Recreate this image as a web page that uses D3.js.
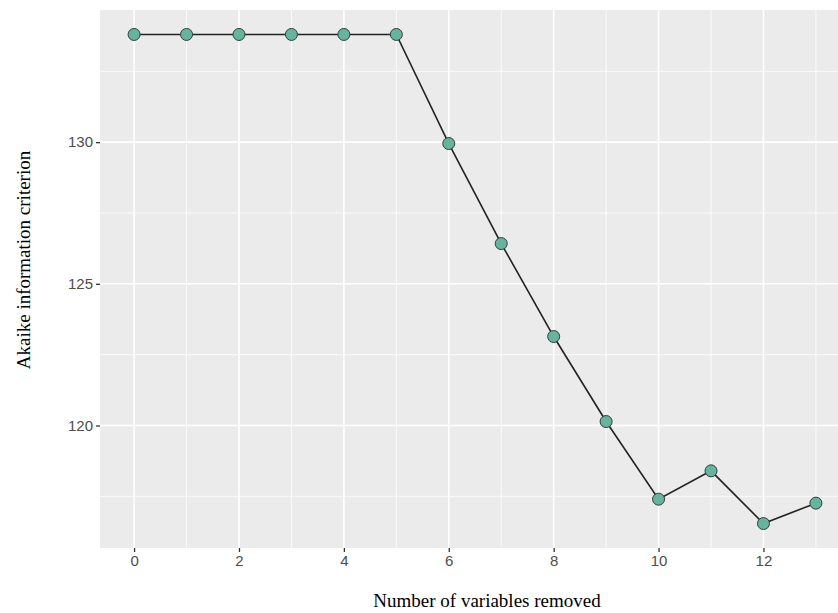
<!DOCTYPE html>
<html>
<head>
<meta charset="utf-8">
<script src="https://cdn.jsdelivr.net/npm/d3@7"></script>
<style>
  body { margin: 0; background: #fff; }
  svg { display: block; }
</style>
</head>
<body>
<div id="chart"></div>
<script>
const removed = [0, 1, 2, 3, 4, 5, 6, 7, 8, 9, 10, 11, 12, 13];
const aic = [133.8, 133.8, 133.8, 133.8, 133.8, 133.8, 129.95, 126.42, 123.14, 120.14, 117.4, 118.4, 116.54, 117.26];
const xTicks = [0, 2, 4, 6, 8, 10, 12];
const yTicks = [120, 125, 130];

const W = 838, H = 613;
const PANEL = { LEFT: 100, RIGHT: 850, TOP: 10, BOTTOM: 548 };

const svg = d3.select("#chart")
  .append("svg")
    .attr("width", W)
    .attr("height", H);

const xMin = d3.min(removed), xMax = d3.max(removed);
const xPad = (xMax - xMin) * 0.05;
const x = d3.scaleLinear()
  .domain([xMin - xPad, xMax + xPad])
  .range([PANEL.LEFT, PANEL.RIGHT]);

const yMin = d3.min(aic), yMax = d3.max(aic);
const yPad = (yMax - yMin) * 0.05;
const y = d3.scaleLinear()
  .domain([yMin - yPad, yMax + yPad])
  .range([PANEL.BOTTOM, PANEL.TOP]);

// panel background
svg.append("rect")
  .attr("x", PANEL.LEFT)
  .attr("y", PANEL.TOP)
  .attr("width", PANEL.RIGHT - PANEL.LEFT)
  .attr("height", PANEL.BOTTOM - PANEL.TOP)
  .attr("fill", "#ebebeb");

// minor grid
const xMinor = d3.range(1, 14, 2);
const yMinor = [117.5, 122.5, 127.5, 132.5];
const grid = svg.append("g");
grid.selectAll(".xminor").data(xMinor).enter().append("line")
  .attr("x1", d => x(d)).attr("x2", d => x(d))
  .attr("y1", PANEL.TOP).attr("y2", PANEL.BOTTOM)
  .attr("stroke", "#fff").attr("stroke-width", 0.8);
grid.selectAll(".yminor").data(yMinor).enter().append("line")
  .attr("y1", d => y(d)).attr("y2", d => y(d))
  .attr("x1", PANEL.LEFT).attr("x2", PANEL.RIGHT)
  .attr("stroke", "#fff").attr("stroke-width", 0.8);

// major grid
grid.selectAll(".xmajor").data(xTicks).enter().append("line")
  .attr("x1", d => x(d)).attr("x2", d => x(d))
  .attr("y1", PANEL.TOP).attr("y2", PANEL.BOTTOM)
  .attr("stroke", "#fff").attr("stroke-width", 1.6);
grid.selectAll(".ymajor").data(yTicks).enter().append("line")
  .attr("y1", d => y(d)).attr("y2", d => y(d))
  .attr("x1", PANEL.LEFT).attr("x2", PANEL.RIGHT)
  .attr("stroke", "#fff").attr("stroke-width", 1.6);

// axes
const xAxis = svg.append("g")
  .attr("transform", `translate(0, ${PANEL.BOTTOM})`)
  .call(d3.axisBottom(x).tickValues(xTicks).tickSize(4).tickPadding(3));
const yAxis = svg.append("g")
  .attr("transform", `translate(${PANEL.LEFT}, 0)`)
  .call(d3.axisLeft(y).tickValues(yTicks).tickSize(4).tickPadding(3));

[xAxis, yAxis].forEach(g => {
  g.select(".domain").remove();
  g.selectAll(".tick line").attr("stroke", "#333").attr("stroke-width", 1.3);
  g.selectAll(".tick text")
    .attr("fill", "#4d4d4d")
    .style("font-family", "'Liberation Sans', Arial, sans-serif")
    .style("font-size", "15px");
});

// line + points
const line = d3.line()
  .x((d, i) => x(removed[i]))
  .y(d => y(d));

svg.append("path")
  .datum(aic)
  .attr("d", line)
  .attr("fill", "none")
  .attr("stroke", "#222")
  .attr("stroke-width", 1.6);

svg.selectAll(".pt")
  .data(aic)
  .enter()
  .append("circle")
    .attr("cx", (d, i) => x(removed[i]))
    .attr("cy", d => y(d))
    .attr("r", 6)
    .attr("fill", "#66b49d")
    .attr("stroke", "#2f3f3a")
    .attr("stroke-width", 1);

// titles
svg.append("text")
  .attr("x", 487)
  .attr("y", 607)
  .attr("text-anchor", "middle")
  .style("font-family", "'Liberation Serif', 'Times New Roman', serif")
  .style("font-size", "19px")
  .attr("fill", "#000")
  .text("Number of variables removed");

svg.append("text")
  .attr("transform", "rotate(-90)")
  .attr("x", -260)
  .attr("y", 30)
  .attr("text-anchor", "middle")
  .style("font-family", "'Liberation Serif', 'Times New Roman', serif")
  .style("font-size", "19px")
  .attr("fill", "#000")
  .text("Akaike information criterion");
</script>
</body>
</html>
